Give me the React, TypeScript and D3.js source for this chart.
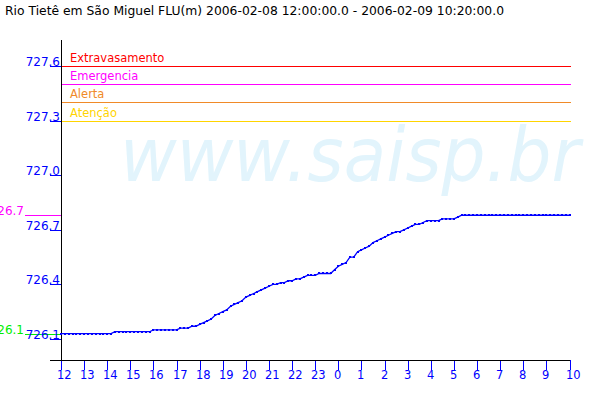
import React from "react";
import * as d3 from "d3";

const TITLE = "Rio Tietê em São Miguel FLU(m) 2006-02-08 12:00:00.0 - 2006-02-09 10:20:00.0";
const START = new Date(2006, 1, 8, 12, 0, 0);
const END = new Date(2006, 1, 9, 10, 0, 0);
const STEP_MINUTES = 10;

const levels: number[] = [
  726.13, 726.13, 726.13, 726.13, 726.13, 726.13, 726.13, 726.13, 726.13, 726.13,
  726.13, 726.13, 726.13, 726.13, 726.14, 726.14, 726.14, 726.14, 726.14, 726.14,
  726.14, 726.14, 726.14, 726.14, 726.15, 726.15, 726.15, 726.15, 726.15, 726.15,
  726.15, 726.16, 726.16, 726.16, 726.17, 726.17, 726.18, 726.19, 726.20, 726.21,
  726.23, 726.24, 726.25, 726.26, 726.28, 726.29, 726.30, 726.31, 726.33, 726.34,
  726.35, 726.36, 726.37, 726.38, 726.39, 726.40, 726.40, 726.41, 726.41, 726.42,
  726.42, 726.43, 726.43, 726.44, 726.45, 726.45, 726.45, 726.46, 726.46, 726.46,
  726.46, 726.48, 726.50, 726.51, 726.52, 726.55, 726.55, 726.58, 726.59, 726.60,
  726.61, 726.63, 726.64, 726.65, 726.66, 726.67, 726.68, 726.69, 726.69, 726.70,
  726.71, 726.72, 726.73, 726.73, 726.74, 726.75, 726.75, 726.75, 726.75, 726.76,
  726.76, 726.76, 726.76, 726.77, 726.78, 726.78, 726.78, 726.78, 726.78, 726.78,
  726.78, 726.78, 726.78, 726.78, 726.78, 726.78, 726.78, 726.78, 726.78, 726.78,
  726.78, 726.78, 726.78, 726.78, 726.78, 726.78, 726.78, 726.78, 726.78, 726.78,
  726.78, 726.78, 726.78,
];

const yTicks: number[] = [726.1, 726.4, 726.7, 727.0, 727.3, 727.6];

const thresholdNames: string[] = ["Extravasamento", "Emergencia", "Alerta", "Atenção"];
const thresholdValues: number[] = [727.6, 727.5, 727.4, 727.3];
const thresholdColors: string[] = ["#ff0000", "#ff00ff", "#f08a28", "#ffd400"];

const WATERMARK = "www.saisp.br";

const FONT = "'DejaVu Sans', sans-serif";

export default function App() {
  const W = 600;
  const H = 400;
  const left = 61;
  const right = 569.5;
  const axisTop = 40;
  const axisBottom = 360;

  const x = d3.scaleTime().domain([START, END]).range([left, right]);
  const y = d3.scaleLinear().domain([726.1, 727.6]).range([339, 66]);

  const data = levels.map((v, i) => ({
    t: new Date(START.getTime() + i * STEP_MINUTES * 60000),
    v,
  }));

  const line = d3
    .line<{ t: Date; v: number }>()
    .x((d) => x(d.t))
    .y((d) => y(d.v));

  const xTicks = x.ticks(d3.timeHour.every(1)!);
  const fmtHour = d3.timeFormat("%-H");

  const maxV = d3.max(levels)!;
  const minV = d3.min(levels)!;
  const trunc = (v: number) => (Math.floor(v * 10 + 1e-6) / 10).toFixed(1);

  return (
    <svg
      width={W}
      height={H}
      style={{ position: "absolute", left: 0, top: 0, background: "#ffffff" }}
      fontFamily={FONT}
    >
      <rect x={0} y={0} width={W} height={H} fill="#ffffff" />
      {/* watermark */}
      <text
        x={120}
        y={181}
        fontSize={74}
        fontStyle="italic"
        fill="#e2f4fc"
        textLength={460}
        lengthAdjust="spacingAndGlyphs"
      >
        {WATERMARK}
      </text>

      {/* title */}
      <text x={5} y={15} fontSize={12} fill="#000" textLength={499} lengthAdjust="spacingAndGlyphs">
        {TITLE}
      </text>

      {/* thresholds */}
      {thresholdNames.map((name, i) => (
        <g key={name}>
          <line
            x1={left}
            x2={571}
            y1={Math.round(y(thresholdValues[i])) + 0.5}
            y2={Math.round(y(thresholdValues[i])) + 0.5}
            stroke={thresholdColors[i]}
            strokeWidth={1}
          />
          <text
            x={70}
            y={Math.round(y(thresholdValues[i])) - 4}
            fontSize={11.5}
            fill={thresholdColors[i]}
          >
            {name}
          </text>
        </g>
      ))}

      {/* max / min markers on left */}
      <line x1={25} x2={left} y1={Math.round(y(maxV)) + 0.5} y2={Math.round(y(maxV)) + 0.5} stroke="#ff00ff" />
      <text x={24} y={Math.round(y(maxV))} fontSize={12} fill="#ff00ff" textAnchor="end">
        {trunc(maxV)}
      </text>
      <line x1={25} x2={left} y1={Math.round(y(minV)) + 0.5} y2={Math.round(y(minV)) + 0.5} stroke="#00ee00" />
      <text x={24} y={Math.round(y(minV))} fontSize={12} fill="#00ee00" textAnchor="end">
        {trunc(minV)}
      </text>

      {/* y ticks */}
      {yTicks.map((t) => {
        const yy = Math.round(y(t));
        return (
          <g key={t}>
            <line x1={50} x2={left} y1={yy + 0.5} y2={yy + 0.5} stroke="#0000ff" />
            <text x={60} y={yy} fontSize={12} fill="#0000ff" textAnchor="end">
              {t.toFixed(1)}
            </text>
          </g>
        );
      })}

      {/* x ticks */}
      {xTicks.map((t) => {
        const xx = Math.round(x(t));
        return (
          <g key={t.getTime()}>
            <line x1={xx + 0.5} x2={xx + 0.5} y1={axisBottom} y2={370} stroke="#0000ff" />
            <text x={xx - 4} y={379} fontSize={11.5} fill="#0000ff">
              {fmtHour(t)}
            </text>
          </g>
        );
      })}

      {/* axes */}
      <line x1={left + 0.5} x2={left + 0.5} y1={axisTop} y2={axisBottom} stroke="#000" />
      <line x1={50} x2={570} y1={axisBottom + 0.5} y2={axisBottom + 0.5} stroke="#000" />

      {/* data */}
      <path d={line(data)!} fill="none" stroke="#0000ff" strokeWidth={1.3} />
      {data.map((d, i) => (
        <rect
          key={i}
          x={Math.round(x(d.t)) - 1}
          y={Math.round(y(d.v)) - 1}
          width={2}
          height={2}
          fill="#0000ff"
        />
      ))}
    </svg>
  );
}
